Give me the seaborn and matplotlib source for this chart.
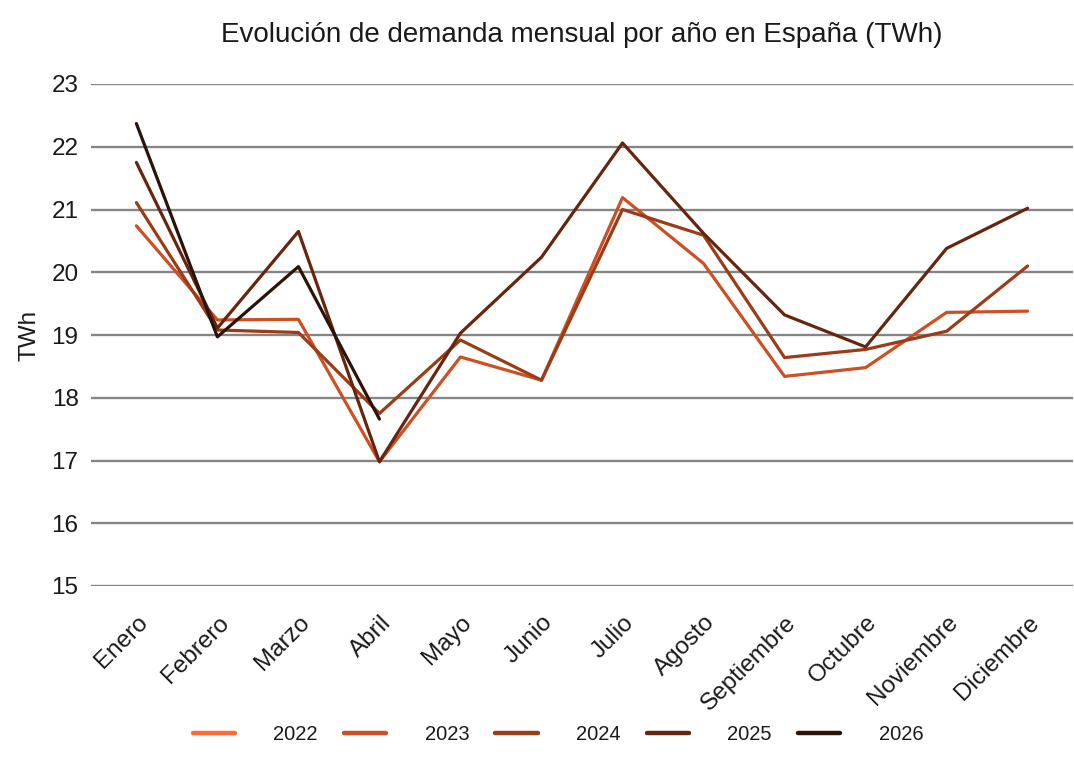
import numpy as np
import pandas as pd
import matplotlib
matplotlib.use("Agg")
import matplotlib.pyplot as plt
import matplotlib.transforms as mtransforms
import seaborn as sns

meses = ["Enero", "Febrero", "Marzo", "Abril", "Mayo", "Junio", "Julio",
         "Agosto", "Septiembre", "Octubre", "Noviembre", "Diciembre"]
anios = ["2022", "2023", "2024", "2025", "2026"]
nan = np.nan
v2022 = [nan] * 12
v2023 = [20.74, 19.24, 19.25, 16.98, 18.65, 18.28, 21.19, 20.14, 18.34, 18.48, 19.36, 19.38]
v2024 = [21.11, 19.08, 19.04, 17.75, 18.92, 18.28, 21.00, 20.59, 18.64, 18.77, 19.06, 20.10]
v2025 = [21.75, 19.11, 20.65, 16.98, 19.03, 20.24, 22.06, 20.62, 19.32, 18.81, 20.38, 21.02]
v2026 = [22.37, 18.97, 20.09, 17.66, nan, nan, nan, nan, nan, nan, nan, nan]
colores = ["#FF6A35", "#CD4F24", "#9A3C18", "#66260D", "#2B1407"]
y_ticks = [15, 16, 17, 18, 19, 20, 21, 22, 23]

series = {"2022": v2022, "2023": v2023, "2024": v2024, "2025": v2025, "2026": v2026}
rows = []
for a in anios:
    for m, v in zip(meses, series[a]):
        rows.append({"Mes": m, "TWh": v, "Año": a})
df = pd.DataFrame(rows)
df["Mes"] = pd.Categorical(df["Mes"], categories=meses, ordered=True)

sns.set_theme(style="white")
plt.rcParams["font.family"] = ["Liberation Sans", "DejaVu Sans"]
txt = "#1a1a1a"

fig = plt.figure(figsize=(10.74, 7.6), dpi=100)
ax = fig.add_axes([91 / 1074, 1 - 586 / 760, (1073 - 91) / 1074, (586 - 84) / 760])

sns.lineplot(data=df, x="Mes", y="TWh", hue="Año", hue_order=anios,
             palette=dict(zip(anios, colores)), linewidth=2.3, ax=ax,
             legend=True, sort=False)

ax.set_ylim(15, 23)
ax.set_xlim(-0.56, 11.56)
ax.set_yticks(y_ticks)
ax.set_yticklabels([str(t) for t in y_ticks], fontsize=17.5, color=txt)
ax.set_xticks(range(len(meses)))
ax.tick_params(axis="x", length=0, pad=24)
ax.tick_params(axis="y", length=0, pad=9)
ax.set_xticklabels(meses, fontsize=17.5, color=txt, rotation=45,
                   ha="right", va="center", rotation_mode="anchor")
offset = mtransforms.ScaledTranslation(8 / 100, 0, fig.dpi_scale_trans)
for lab in ax.get_xticklabels():
    lab.set_transform(lab.get_transform() + offset)
ax.yaxis.grid(True, color="#858585", linewidth=1.7)
ax.xaxis.grid(False)
for s in ax.spines.values():
    s.set_visible(False)
ax.set_xlabel("")
ax.set_ylabel("TWh", fontsize=17.5, color=txt, labelpad=8)
ax.set_title("Evolución de demanda mensual por año en España (TWh)",
             fontsize=20, color=txt, pad=30)

handles, labels = ax.get_legend_handles_labels()
ax.get_legend().remove()
for h in handles:
    h.set_linewidth(3.2)
fig.legend(handles, labels, loc="center", bbox_to_anchor=(558 / 1074, 1 - 735 / 760),
           ncol=5, frameon=False, fontsize=14.5, handlelength=2.1, handletextpad=1.9,
           columnspacing=1.3, labelcolor=txt)

fig.savefig("out.png", dpi=100, facecolor="white")
